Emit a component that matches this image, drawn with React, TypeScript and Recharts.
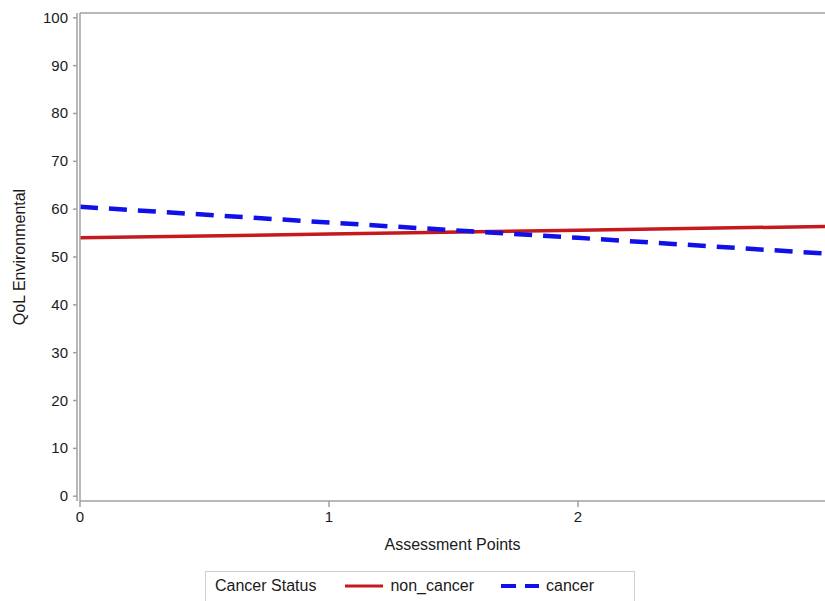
import { LineChart, Line, XAxis, YAxis, ReferenceLine } from "recharts";

const assessmentPoints = [0, 1, 2, 3];
const nonCancer = [54.0, 54.8, 55.6, 56.4];
const cancer = [60.5, 57.2, 54.0, 50.7];
const xTicks = [0, 1, 2];
const yTicks = [0, 10, 20, 30, 40, 50, 60, 70, 80, 90, 100];

const series = [
  { key: "non_cancer", name: "non_cancer", color: "#c41a1f", width: 3.5, dash: undefined as string | undefined },
  { key: "cancer", name: "cancer", color: "#1010e8", width: 4.5, dash: "18 11" },
];

const data = assessmentPoints.map((x, i) => ({ x, non_cancer: nonCancer[i], cancer: cancer[i] }));

const font = "'Liberation Sans', Arial, sans-serif";
const axisColor = "#a0a0a0";
const textColor = "#1a1a1a";

function XTick(props: any) {
  const { x, y, payload } = props;
  return (
    <text x={x} y={y + 14} textAnchor="middle" fill={textColor} fontSize={15} fontFamily={font}>
      {payload.value}
    </text>
  );
}

function YTick(props: any) {
  const { x, y, payload } = props;
  return (
    <text x={x} y={y + 5} textAnchor="end" fill={textColor} fontSize={15} fontFamily={font}>
      {payload.value}
    </text>
  );
}

function LegendBox() {
  return (
    <div
      style={{
        position: "absolute",
        left: 205,
        top: 571,
        width: 430,
        height: 34,
        border: "1px solid #cfcfcf",
        boxSizing: "border-box",
        fontFamily: font,
        fontSize: 16,
        color: textColor,
        display: "flex",
        alignItems: "center",
        paddingLeft: 9,
        paddingBottom: 4,
      }}
    >
      <span style={{ marginRight: 29 }}>Cancer Status</span>
      {series.map((s) => (
        <span key={s.key} style={{ display: "flex", alignItems: "center", marginRight: 27 }}>
          <svg width={38} height={10} style={{ marginRight: 7 }}>
            <line
              x1={0}
              y1={5}
              x2={38}
              y2={5}
              stroke={s.color}
              strokeWidth={s.width - 0.5}
              strokeDasharray={s.dash ? "15 9" : undefined}
            />
          </svg>
          {s.name}
        </span>
      ))}
    </div>
  );
}

export default function App() {
  return (
    <div style={{ position: "absolute", left: 0, top: 0, width: 825, height: 601, background: "#fff", overflow: "hidden" }}>
      <LineChart width={825} height={601} data={data} margin={{ top: 13, right: 0, left: 0, bottom: 0 }}>
        <XAxis
          dataKey="x"
          type="number"
          domain={[0, 2.992]}
          allowDataOverflow
          ticks={xTicks}
          height={100}
          tick={<XTick />}
          tickSize={6}
          tickMargin={1}
          stroke={axisColor}
          strokeWidth={1.5}
          label={{ value: "Assessment Points", position: "insideTop", offset: 38, fill: textColor, fontSize: 16, fontFamily: font }}
        />
        <YAxis
          yAxisId="frame"
          orientation="left"
          type="number"
          domain={[-1, 101]}
          width={3}
          tick={false}
          tickLine={false}
          stroke={axisColor}
          strokeWidth={1.5}
        />
        <YAxis
          yAxisId="main"
          orientation="left"
          type="number"
          domain={[-1, 101]}
          ticks={yTicks}
          width={77}
          tick={<YTick />}
          tickSize={4}
          tickMargin={5}
          stroke={axisColor}
          strokeWidth={1.5}
          label={{ value: "QoL Environmental", angle: -90, position: "insideLeft", offset: 19, fill: textColor, fontSize: 16, fontFamily: font, style: { textAnchor: "middle" } }}
        />
        <ReferenceLine yAxisId="main" y={101} stroke={axisColor} strokeWidth={1.5} ifOverflow="extendDomain" />
        {series.map((s) => (
          <Line
            key={s.key}
            yAxisId="main"
            type="linear"
            dataKey={s.key}
            name={s.name}
            stroke={s.color}
            strokeWidth={s.width}
            strokeDasharray={s.dash}
            dot={false}
            activeDot={false}
            isAnimationActive={false}
          />
        ))}
      </LineChart>
      <LegendBox />
    </div>
  );
}
